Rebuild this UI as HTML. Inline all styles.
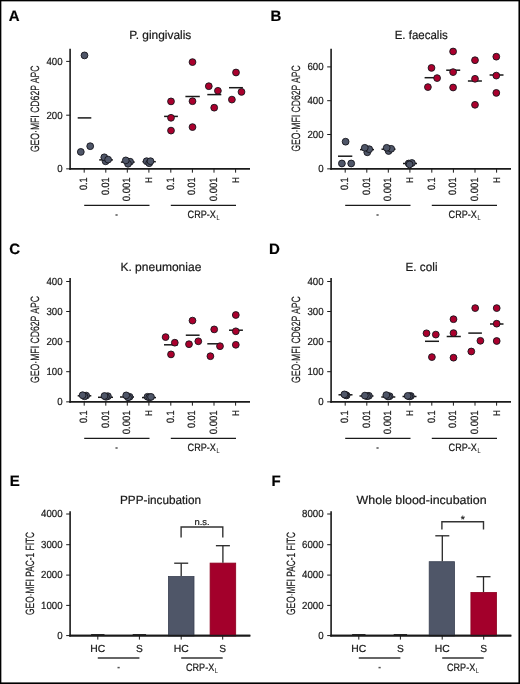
<!DOCTYPE html>
<html><head><meta charset="utf-8"><style>
html,body{margin:0;padding:0;background:#fff;width:520px;height:684px;overflow:hidden}
</style></head><body>
<svg width="520" height="684" viewBox="0 0 520 684" style="display:block;will-change:transform">
<style>text{stroke:#1a1a1a;stroke-width:0.22px}</style>
<g font-family='"Liberation Sans", sans-serif' text-rendering="geometricPrecision">
<rect x="0" y="0" width="520" height="684" fill="#fff"/>
<rect x="0" y="0" width="520" height="1.35" fill="#000"/>
<rect x="0" y="0" width="1.35" height="684" fill="#000"/>
<rect x="518.45" y="0" width="1.55" height="684" fill="#000"/>
<rect x="0" y="682.4" width="520" height="1.6" fill="#000"/>
<text x="8.80" y="20.60" font-size="15" text-anchor="start" font-weight="bold" fill="#000">A</text>
<text x="129.30" y="38.70" font-size="12" text-anchor="start" font-weight="normal" fill="#1a1a1a" textLength="62" lengthAdjust="spacingAndGlyphs">P. gingivalis</text>
<line x1="70.10" y1="48.80" x2="70.10" y2="169.65" stroke="#1a1a1a" stroke-width="1.6"/>
<line x1="69.30" y1="168.85" x2="250.00" y2="168.85" stroke="#1a1a1a" stroke-width="1.6"/>
<line x1="66.20" y1="61.40" x2="70.10" y2="61.40" stroke="#1a1a1a" stroke-width="1.0"/>
<text x="62.60" y="64.70" font-size="10.4" text-anchor="end" font-weight="normal" fill="#1a1a1a" textLength="16.2" lengthAdjust="spacingAndGlyphs">400</text>
<line x1="66.20" y1="115.20" x2="70.10" y2="115.20" stroke="#1a1a1a" stroke-width="1.0"/>
<text x="62.60" y="118.50" font-size="10.4" text-anchor="end" font-weight="normal" fill="#1a1a1a" textLength="16.2" lengthAdjust="spacingAndGlyphs">200</text>
<line x1="66.20" y1="168.85" x2="70.10" y2="168.85" stroke="#1a1a1a" stroke-width="1.0"/>
<text x="62.60" y="172.15" font-size="10.4" text-anchor="end" font-weight="normal" fill="#1a1a1a" textLength="5.4" lengthAdjust="spacingAndGlyphs">0</text>
<text transform="translate(39.30,152.10) rotate(-90)" font-size="12" text-anchor="start" fill="#1a1a1a" textLength="86.5" lengthAdjust="spacingAndGlyphs">GEO&#183;MFI CD62P APC</text>
<line x1="77.70" y1="117.90" x2="91.30" y2="117.90" stroke="#1a1a1a" stroke-width="1.5"/>
<line x1="99.20" y1="159.90" x2="112.90" y2="159.90" stroke="#1a1a1a" stroke-width="1.5"/>
<line x1="120.90" y1="162.10" x2="134.70" y2="162.10" stroke="#1a1a1a" stroke-width="1.5"/>
<line x1="142.50" y1="161.70" x2="155.80" y2="161.70" stroke="#1a1a1a" stroke-width="1.5"/>
<line x1="164.10" y1="116.40" x2="177.90" y2="116.40" stroke="#1a1a1a" stroke-width="1.5"/>
<line x1="185.40" y1="96.50" x2="199.80" y2="96.50" stroke="#1a1a1a" stroke-width="1.5"/>
<line x1="207.30" y1="94.60" x2="221.30" y2="94.60" stroke="#1a1a1a" stroke-width="1.5"/>
<line x1="229.00" y1="87.70" x2="242.90" y2="87.70" stroke="#1a1a1a" stroke-width="1.5"/>
<circle cx="84.50" cy="55.40" r="3.4" fill="#4f5668" stroke="#15151c" stroke-width="0.9"/>
<circle cx="80.80" cy="151.90" r="3.4" fill="#4f5668" stroke="#15151c" stroke-width="0.9"/>
<circle cx="90.20" cy="146.20" r="3.4" fill="#4f5668" stroke="#15151c" stroke-width="0.9"/>
<circle cx="105.60" cy="161.30" r="3.4" fill="#4f5668" stroke="#15151c" stroke-width="0.9"/>
<circle cx="104.30" cy="157.30" r="3.4" fill="#4f5668" stroke="#15151c" stroke-width="0.9"/>
<circle cx="108.10" cy="159.60" r="3.4" fill="#4f5668" stroke="#15151c" stroke-width="0.9"/>
<circle cx="130.10" cy="161.70" r="3.4" fill="#4f5668" stroke="#15151c" stroke-width="0.9"/>
<circle cx="128.00" cy="163.80" r="3.4" fill="#4f5668" stroke="#15151c" stroke-width="0.9"/>
<circle cx="125.80" cy="160.40" r="3.4" fill="#4f5668" stroke="#15151c" stroke-width="0.9"/>
<circle cx="146.60" cy="161.20" r="3.4" fill="#4f5668" stroke="#15151c" stroke-width="0.9"/>
<circle cx="149.20" cy="163.20" r="3.4" fill="#4f5668" stroke="#15151c" stroke-width="0.9"/>
<circle cx="150.50" cy="161.20" r="3.4" fill="#4f5668" stroke="#15151c" stroke-width="0.9"/>
<circle cx="171.00" cy="101.40" r="3.4" fill="#aa002d" stroke="#15151c" stroke-width="0.9"/>
<circle cx="171.00" cy="117.80" r="3.4" fill="#aa002d" stroke="#15151c" stroke-width="0.9"/>
<circle cx="171.00" cy="130.60" r="3.4" fill="#aa002d" stroke="#15151c" stroke-width="0.9"/>
<circle cx="192.50" cy="62.10" r="3.4" fill="#aa002d" stroke="#15151c" stroke-width="0.9"/>
<circle cx="192.50" cy="101.20" r="3.4" fill="#aa002d" stroke="#15151c" stroke-width="0.9"/>
<circle cx="192.50" cy="127.10" r="3.4" fill="#aa002d" stroke="#15151c" stroke-width="0.9"/>
<circle cx="208.80" cy="86.20" r="3.4" fill="#aa002d" stroke="#15151c" stroke-width="0.9"/>
<circle cx="217.90" cy="90.80" r="3.4" fill="#aa002d" stroke="#15151c" stroke-width="0.9"/>
<circle cx="214.20" cy="107.70" r="3.4" fill="#aa002d" stroke="#15151c" stroke-width="0.9"/>
<circle cx="236.00" cy="72.50" r="3.4" fill="#aa002d" stroke="#15151c" stroke-width="0.9"/>
<circle cx="241.50" cy="91.90" r="3.4" fill="#aa002d" stroke="#15151c" stroke-width="0.9"/>
<circle cx="231.90" cy="99.60" r="3.4" fill="#aa002d" stroke="#15151c" stroke-width="0.9"/>
<line x1="84.20" y1="168.85" x2="84.20" y2="172.65" stroke="#1a1a1a" stroke-width="1.0"/>
<text transform="translate(87.20,177.40) rotate(-90)" font-size="10.6" text-anchor="end" fill="#1a1a1a" textLength="12.6" lengthAdjust="spacingAndGlyphs">0.1</text>
<line x1="105.80" y1="168.85" x2="105.80" y2="172.65" stroke="#1a1a1a" stroke-width="1.0"/>
<text transform="translate(108.80,177.40) rotate(-90)" font-size="10.6" text-anchor="end" fill="#1a1a1a" textLength="17.7" lengthAdjust="spacingAndGlyphs">0.01</text>
<line x1="127.30" y1="168.85" x2="127.30" y2="172.65" stroke="#1a1a1a" stroke-width="1.0"/>
<text transform="translate(130.30,177.40) rotate(-90)" font-size="10.6" text-anchor="end" fill="#1a1a1a" textLength="23.8" lengthAdjust="spacingAndGlyphs">0.001</text>
<line x1="148.90" y1="168.85" x2="148.90" y2="172.65" stroke="#1a1a1a" stroke-width="1.0"/>
<text transform="translate(152.45,177.00) rotate(-90)" font-size="9.6" text-anchor="end" fill="#1a1a1a" textLength="5.9" lengthAdjust="spacingAndGlyphs">H</text>
<line x1="170.80" y1="168.85" x2="170.80" y2="172.65" stroke="#1a1a1a" stroke-width="1.0"/>
<text transform="translate(173.80,177.40) rotate(-90)" font-size="10.6" text-anchor="end" fill="#1a1a1a" textLength="12.6" lengthAdjust="spacingAndGlyphs">0.1</text>
<line x1="192.40" y1="168.85" x2="192.40" y2="172.65" stroke="#1a1a1a" stroke-width="1.0"/>
<text transform="translate(195.40,177.40) rotate(-90)" font-size="10.6" text-anchor="end" fill="#1a1a1a" textLength="17.7" lengthAdjust="spacingAndGlyphs">0.01</text>
<line x1="214.00" y1="168.85" x2="214.00" y2="172.65" stroke="#1a1a1a" stroke-width="1.0"/>
<text transform="translate(217.00,177.40) rotate(-90)" font-size="10.6" text-anchor="end" fill="#1a1a1a" textLength="23.8" lengthAdjust="spacingAndGlyphs">0.001</text>
<line x1="235.60" y1="168.85" x2="235.60" y2="172.65" stroke="#1a1a1a" stroke-width="1.0"/>
<text transform="translate(239.15,177.00) rotate(-90)" font-size="9.6" text-anchor="end" fill="#1a1a1a" textLength="5.9" lengthAdjust="spacingAndGlyphs">H</text>
<line x1="84.20" y1="205.30" x2="149.50" y2="205.30" stroke="#1a1a1a" stroke-width="1.3"/>
<line x1="170.80" y1="205.30" x2="236.00" y2="205.30" stroke="#1a1a1a" stroke-width="1.3"/>
<rect x="115.45" y="214.25" width="2.2" height="1.5" fill="#555"/>
<text x="187.60" y="217.80" font-size="10.6" text-anchor="start" font-weight="normal" fill="#1a1a1a" textLength="28.3" lengthAdjust="spacingAndGlyphs">CRP-X</text>
<text x="216.50" y="220.20" font-size="6.8" fill="#222" style="stroke-width:0.1px" textLength="3.1" lengthAdjust="spacingAndGlyphs">L</text>
<text x="270.60" y="20.60" font-size="15" text-anchor="start" font-weight="bold" fill="#000">B</text>
<text x="394.70" y="38.50" font-size="12" text-anchor="start" font-weight="normal" fill="#1a1a1a" textLength="53" lengthAdjust="spacingAndGlyphs">E. faecalis</text>
<line x1="331.10" y1="48.80" x2="331.10" y2="169.65" stroke="#1a1a1a" stroke-width="1.6"/>
<line x1="330.30" y1="168.85" x2="511.00" y2="168.85" stroke="#1a1a1a" stroke-width="1.6"/>
<line x1="327.20" y1="66.90" x2="331.10" y2="66.90" stroke="#1a1a1a" stroke-width="1.0"/>
<text x="323.60" y="70.20" font-size="10.4" text-anchor="end" font-weight="normal" fill="#1a1a1a" textLength="16.2" lengthAdjust="spacingAndGlyphs">600</text>
<line x1="327.20" y1="100.70" x2="331.10" y2="100.70" stroke="#1a1a1a" stroke-width="1.0"/>
<text x="323.60" y="104.00" font-size="10.4" text-anchor="end" font-weight="normal" fill="#1a1a1a" textLength="16.2" lengthAdjust="spacingAndGlyphs">400</text>
<line x1="327.20" y1="134.50" x2="331.10" y2="134.50" stroke="#1a1a1a" stroke-width="1.0"/>
<text x="323.60" y="137.80" font-size="10.4" text-anchor="end" font-weight="normal" fill="#1a1a1a" textLength="16.2" lengthAdjust="spacingAndGlyphs">200</text>
<line x1="327.20" y1="168.85" x2="331.10" y2="168.85" stroke="#1a1a1a" stroke-width="1.0"/>
<text x="323.60" y="172.15" font-size="10.4" text-anchor="end" font-weight="normal" fill="#1a1a1a" textLength="5.4" lengthAdjust="spacingAndGlyphs">0</text>
<text transform="translate(300.40,151.60) rotate(-90)" font-size="12" text-anchor="start" fill="#1a1a1a" textLength="86.2" lengthAdjust="spacingAndGlyphs">GEO&#183;MFI CD62P APC</text>
<line x1="338.00" y1="156.20" x2="352.30" y2="156.20" stroke="#1a1a1a" stroke-width="1.5"/>
<line x1="360.00" y1="149.60" x2="374.00" y2="149.60" stroke="#1a1a1a" stroke-width="1.5"/>
<line x1="381.50" y1="149.20" x2="395.50" y2="149.20" stroke="#1a1a1a" stroke-width="1.5"/>
<line x1="403.00" y1="163.50" x2="417.00" y2="163.50" stroke="#1a1a1a" stroke-width="1.5"/>
<line x1="424.60" y1="77.70" x2="438.00" y2="77.70" stroke="#1a1a1a" stroke-width="1.5"/>
<line x1="446.20" y1="70.20" x2="460.20" y2="70.20" stroke="#1a1a1a" stroke-width="1.5"/>
<line x1="467.90" y1="81.00" x2="481.90" y2="81.00" stroke="#1a1a1a" stroke-width="1.5"/>
<line x1="489.60" y1="75.00" x2="503.50" y2="75.00" stroke="#1a1a1a" stroke-width="1.5"/>
<circle cx="345.60" cy="141.70" r="3.4" fill="#4f5668" stroke="#15151c" stroke-width="0.9"/>
<circle cx="341.90" cy="163.50" r="3.4" fill="#4f5668" stroke="#15151c" stroke-width="0.9"/>
<circle cx="351.20" cy="163.50" r="3.4" fill="#4f5668" stroke="#15151c" stroke-width="0.9"/>
<circle cx="367.30" cy="152.30" r="3.4" fill="#4f5668" stroke="#15151c" stroke-width="0.9"/>
<circle cx="369.20" cy="149.20" r="3.4" fill="#4f5668" stroke="#15151c" stroke-width="0.9"/>
<circle cx="364.80" cy="147.80" r="3.4" fill="#4f5668" stroke="#15151c" stroke-width="0.9"/>
<circle cx="388.60" cy="151.00" r="3.4" fill="#4f5668" stroke="#15151c" stroke-width="0.9"/>
<circle cx="391.20" cy="148.80" r="3.4" fill="#4f5668" stroke="#15151c" stroke-width="0.9"/>
<circle cx="386.70" cy="147.80" r="3.4" fill="#4f5668" stroke="#15151c" stroke-width="0.9"/>
<circle cx="408.70" cy="163.50" r="3.4" fill="#4f5668" stroke="#15151c" stroke-width="0.9"/>
<circle cx="411.90" cy="163.00" r="3.4" fill="#4f5668" stroke="#15151c" stroke-width="0.9"/>
<circle cx="409.60" cy="164.40" r="3.4" fill="#4f5668" stroke="#15151c" stroke-width="0.9"/>
<circle cx="431.50" cy="67.90" r="3.4" fill="#aa002d" stroke="#15151c" stroke-width="0.9"/>
<circle cx="437.10" cy="78.10" r="3.4" fill="#aa002d" stroke="#15151c" stroke-width="0.9"/>
<circle cx="427.90" cy="87.10" r="3.4" fill="#aa002d" stroke="#15151c" stroke-width="0.9"/>
<circle cx="453.10" cy="51.50" r="3.4" fill="#aa002d" stroke="#15151c" stroke-width="0.9"/>
<circle cx="453.10" cy="72.10" r="3.4" fill="#aa002d" stroke="#15151c" stroke-width="0.9"/>
<circle cx="453.10" cy="87.50" r="3.4" fill="#aa002d" stroke="#15151c" stroke-width="0.9"/>
<circle cx="475.00" cy="60.20" r="3.4" fill="#aa002d" stroke="#15151c" stroke-width="0.9"/>
<circle cx="475.00" cy="78.80" r="3.4" fill="#aa002d" stroke="#15151c" stroke-width="0.9"/>
<circle cx="475.00" cy="104.80" r="3.4" fill="#aa002d" stroke="#15151c" stroke-width="0.9"/>
<circle cx="496.30" cy="56.70" r="3.4" fill="#aa002d" stroke="#15151c" stroke-width="0.9"/>
<circle cx="496.30" cy="75.60" r="3.4" fill="#aa002d" stroke="#15151c" stroke-width="0.9"/>
<circle cx="496.30" cy="92.90" r="3.4" fill="#aa002d" stroke="#15151c" stroke-width="0.9"/>
<line x1="345.20" y1="168.85" x2="345.20" y2="172.65" stroke="#1a1a1a" stroke-width="1.0"/>
<text transform="translate(348.20,177.40) rotate(-90)" font-size="10.6" text-anchor="end" fill="#1a1a1a" textLength="12.6" lengthAdjust="spacingAndGlyphs">0.1</text>
<line x1="366.80" y1="168.85" x2="366.80" y2="172.65" stroke="#1a1a1a" stroke-width="1.0"/>
<text transform="translate(369.80,177.40) rotate(-90)" font-size="10.6" text-anchor="end" fill="#1a1a1a" textLength="17.7" lengthAdjust="spacingAndGlyphs">0.01</text>
<line x1="388.30" y1="168.85" x2="388.30" y2="172.65" stroke="#1a1a1a" stroke-width="1.0"/>
<text transform="translate(391.30,177.40) rotate(-90)" font-size="10.6" text-anchor="end" fill="#1a1a1a" textLength="23.8" lengthAdjust="spacingAndGlyphs">0.001</text>
<line x1="409.90" y1="168.85" x2="409.90" y2="172.65" stroke="#1a1a1a" stroke-width="1.0"/>
<text transform="translate(413.45,177.00) rotate(-90)" font-size="9.6" text-anchor="end" fill="#1a1a1a" textLength="5.9" lengthAdjust="spacingAndGlyphs">H</text>
<line x1="431.80" y1="168.85" x2="431.80" y2="172.65" stroke="#1a1a1a" stroke-width="1.0"/>
<text transform="translate(434.80,177.40) rotate(-90)" font-size="10.6" text-anchor="end" fill="#1a1a1a" textLength="12.6" lengthAdjust="spacingAndGlyphs">0.1</text>
<line x1="453.40" y1="168.85" x2="453.40" y2="172.65" stroke="#1a1a1a" stroke-width="1.0"/>
<text transform="translate(456.40,177.40) rotate(-90)" font-size="10.6" text-anchor="end" fill="#1a1a1a" textLength="17.7" lengthAdjust="spacingAndGlyphs">0.01</text>
<line x1="475.00" y1="168.85" x2="475.00" y2="172.65" stroke="#1a1a1a" stroke-width="1.0"/>
<text transform="translate(478.00,177.40) rotate(-90)" font-size="10.6" text-anchor="end" fill="#1a1a1a" textLength="23.8" lengthAdjust="spacingAndGlyphs">0.001</text>
<line x1="496.60" y1="168.85" x2="496.60" y2="172.65" stroke="#1a1a1a" stroke-width="1.0"/>
<text transform="translate(500.15,177.00) rotate(-90)" font-size="9.6" text-anchor="end" fill="#1a1a1a" textLength="5.9" lengthAdjust="spacingAndGlyphs">H</text>
<line x1="345.20" y1="205.30" x2="410.50" y2="205.30" stroke="#1a1a1a" stroke-width="1.3"/>
<line x1="431.80" y1="205.30" x2="497.00" y2="205.30" stroke="#1a1a1a" stroke-width="1.3"/>
<rect x="376.45" y="214.25" width="2.2" height="1.5" fill="#555"/>
<text x="448.60" y="217.80" font-size="10.6" text-anchor="start" font-weight="normal" fill="#1a1a1a" textLength="28.3" lengthAdjust="spacingAndGlyphs">CRP-X</text>
<text x="477.50" y="220.20" font-size="6.8" fill="#222" style="stroke-width:0.1px" textLength="3.1" lengthAdjust="spacingAndGlyphs">L</text>
<text x="9.30" y="253.60" font-size="15" text-anchor="start" font-weight="bold" fill="#000">C</text>
<text x="120.40" y="271.00" font-size="12" text-anchor="start" font-weight="normal" fill="#1a1a1a" textLength="81" lengthAdjust="spacingAndGlyphs">K. pneumoniae</text>
<line x1="70.10" y1="278.00" x2="70.10" y2="402.65" stroke="#1a1a1a" stroke-width="1.6"/>
<line x1="69.30" y1="401.85" x2="250.00" y2="401.85" stroke="#1a1a1a" stroke-width="1.6"/>
<line x1="66.20" y1="281.50" x2="70.10" y2="281.50" stroke="#1a1a1a" stroke-width="1.0"/>
<text x="62.60" y="284.80" font-size="10.4" text-anchor="end" font-weight="normal" fill="#1a1a1a" textLength="16.2" lengthAdjust="spacingAndGlyphs">400</text>
<line x1="66.20" y1="311.50" x2="70.10" y2="311.50" stroke="#1a1a1a" stroke-width="1.0"/>
<text x="62.60" y="314.80" font-size="10.4" text-anchor="end" font-weight="normal" fill="#1a1a1a" textLength="16.2" lengthAdjust="spacingAndGlyphs">300</text>
<line x1="66.20" y1="341.70" x2="70.10" y2="341.70" stroke="#1a1a1a" stroke-width="1.0"/>
<text x="62.60" y="345.00" font-size="10.4" text-anchor="end" font-weight="normal" fill="#1a1a1a" textLength="16.2" lengthAdjust="spacingAndGlyphs">200</text>
<line x1="66.20" y1="371.70" x2="70.10" y2="371.70" stroke="#1a1a1a" stroke-width="1.0"/>
<text x="62.60" y="375.00" font-size="10.4" text-anchor="end" font-weight="normal" fill="#1a1a1a" textLength="16.2" lengthAdjust="spacingAndGlyphs">100</text>
<line x1="66.20" y1="401.85" x2="70.10" y2="401.85" stroke="#1a1a1a" stroke-width="1.0"/>
<text x="62.60" y="405.15" font-size="10.4" text-anchor="end" font-weight="normal" fill="#1a1a1a" textLength="5.4" lengthAdjust="spacingAndGlyphs">0</text>
<text transform="translate(39.40,383.00) rotate(-90)" font-size="12" text-anchor="start" fill="#1a1a1a" textLength="87.0" lengthAdjust="spacingAndGlyphs">GEO&#183;MFI CD62P APC</text>
<line x1="77.70" y1="395.80" x2="91.30" y2="395.80" stroke="#1a1a1a" stroke-width="1.5"/>
<line x1="98.00" y1="397.30" x2="113.00" y2="397.30" stroke="#1a1a1a" stroke-width="1.5"/>
<line x1="120.00" y1="397.00" x2="134.00" y2="397.00" stroke="#1a1a1a" stroke-width="1.5"/>
<line x1="142.00" y1="397.60" x2="156.00" y2="397.60" stroke="#1a1a1a" stroke-width="1.5"/>
<line x1="164.00" y1="344.80" x2="177.70" y2="344.80" stroke="#1a1a1a" stroke-width="1.5"/>
<line x1="185.80" y1="335.20" x2="199.60" y2="335.20" stroke="#1a1a1a" stroke-width="1.5"/>
<line x1="207.30" y1="343.80" x2="221.00" y2="343.80" stroke="#1a1a1a" stroke-width="1.5"/>
<line x1="229.00" y1="330.20" x2="242.90" y2="330.20" stroke="#1a1a1a" stroke-width="1.5"/>
<circle cx="86.20" cy="395.60" r="3.4" fill="#4f5668" stroke="#15151c" stroke-width="0.9"/>
<circle cx="84.50" cy="396.30" r="3.4" fill="#4f5668" stroke="#15151c" stroke-width="0.9"/>
<circle cx="82.60" cy="395.20" r="3.4" fill="#4f5668" stroke="#15151c" stroke-width="0.9"/>
<circle cx="107.90" cy="396.20" r="3.4" fill="#4f5668" stroke="#15151c" stroke-width="0.9"/>
<circle cx="106.00" cy="396.80" r="3.4" fill="#4f5668" stroke="#15151c" stroke-width="0.9"/>
<circle cx="104.50" cy="396.00" r="3.4" fill="#4f5668" stroke="#15151c" stroke-width="0.9"/>
<circle cx="129.60" cy="396.80" r="3.4" fill="#4f5668" stroke="#15151c" stroke-width="0.9"/>
<circle cx="128.00" cy="397.30" r="3.4" fill="#4f5668" stroke="#15151c" stroke-width="0.9"/>
<circle cx="126.20" cy="395.40" r="3.4" fill="#4f5668" stroke="#15151c" stroke-width="0.9"/>
<circle cx="147.50" cy="396.80" r="3.4" fill="#4f5668" stroke="#15151c" stroke-width="0.9"/>
<circle cx="149.30" cy="397.30" r="3.4" fill="#4f5668" stroke="#15151c" stroke-width="0.9"/>
<circle cx="151.00" cy="396.90" r="3.4" fill="#4f5668" stroke="#15151c" stroke-width="0.9"/>
<circle cx="165.60" cy="337.10" r="3.4" fill="#aa002d" stroke="#15151c" stroke-width="0.9"/>
<circle cx="174.80" cy="342.70" r="3.4" fill="#aa002d" stroke="#15151c" stroke-width="0.9"/>
<circle cx="171.00" cy="354.40" r="3.4" fill="#aa002d" stroke="#15151c" stroke-width="0.9"/>
<circle cx="192.50" cy="320.60" r="3.4" fill="#aa002d" stroke="#15151c" stroke-width="0.9"/>
<circle cx="189.00" cy="344.20" r="3.4" fill="#aa002d" stroke="#15151c" stroke-width="0.9"/>
<circle cx="198.30" cy="341.30" r="3.4" fill="#aa002d" stroke="#15151c" stroke-width="0.9"/>
<circle cx="214.20" cy="329.40" r="3.4" fill="#aa002d" stroke="#15151c" stroke-width="0.9"/>
<circle cx="220.00" cy="346.20" r="3.4" fill="#aa002d" stroke="#15151c" stroke-width="0.9"/>
<circle cx="210.40" cy="356.20" r="3.4" fill="#aa002d" stroke="#15151c" stroke-width="0.9"/>
<circle cx="235.80" cy="315.00" r="3.4" fill="#aa002d" stroke="#15151c" stroke-width="0.9"/>
<circle cx="235.80" cy="331.30" r="3.4" fill="#aa002d" stroke="#15151c" stroke-width="0.9"/>
<circle cx="235.80" cy="344.80" r="3.4" fill="#aa002d" stroke="#15151c" stroke-width="0.9"/>
<line x1="84.20" y1="401.85" x2="84.20" y2="405.65" stroke="#1a1a1a" stroke-width="1.0"/>
<text transform="translate(87.20,410.40) rotate(-90)" font-size="10.6" text-anchor="end" fill="#1a1a1a" textLength="12.6" lengthAdjust="spacingAndGlyphs">0.1</text>
<line x1="105.80" y1="401.85" x2="105.80" y2="405.65" stroke="#1a1a1a" stroke-width="1.0"/>
<text transform="translate(108.80,410.40) rotate(-90)" font-size="10.6" text-anchor="end" fill="#1a1a1a" textLength="17.7" lengthAdjust="spacingAndGlyphs">0.01</text>
<line x1="127.30" y1="401.85" x2="127.30" y2="405.65" stroke="#1a1a1a" stroke-width="1.0"/>
<text transform="translate(130.30,410.40) rotate(-90)" font-size="10.6" text-anchor="end" fill="#1a1a1a" textLength="23.8" lengthAdjust="spacingAndGlyphs">0.001</text>
<line x1="148.90" y1="401.85" x2="148.90" y2="405.65" stroke="#1a1a1a" stroke-width="1.0"/>
<text transform="translate(152.45,410.00) rotate(-90)" font-size="9.6" text-anchor="end" fill="#1a1a1a" textLength="5.9" lengthAdjust="spacingAndGlyphs">H</text>
<line x1="170.80" y1="401.85" x2="170.80" y2="405.65" stroke="#1a1a1a" stroke-width="1.0"/>
<text transform="translate(173.80,410.40) rotate(-90)" font-size="10.6" text-anchor="end" fill="#1a1a1a" textLength="12.6" lengthAdjust="spacingAndGlyphs">0.1</text>
<line x1="192.40" y1="401.85" x2="192.40" y2="405.65" stroke="#1a1a1a" stroke-width="1.0"/>
<text transform="translate(195.40,410.40) rotate(-90)" font-size="10.6" text-anchor="end" fill="#1a1a1a" textLength="17.7" lengthAdjust="spacingAndGlyphs">0.01</text>
<line x1="214.00" y1="401.85" x2="214.00" y2="405.65" stroke="#1a1a1a" stroke-width="1.0"/>
<text transform="translate(217.00,410.40) rotate(-90)" font-size="10.6" text-anchor="end" fill="#1a1a1a" textLength="23.8" lengthAdjust="spacingAndGlyphs">0.001</text>
<line x1="235.60" y1="401.85" x2="235.60" y2="405.65" stroke="#1a1a1a" stroke-width="1.0"/>
<text transform="translate(239.15,410.00) rotate(-90)" font-size="9.6" text-anchor="end" fill="#1a1a1a" textLength="5.9" lengthAdjust="spacingAndGlyphs">H</text>
<line x1="84.20" y1="438.30" x2="149.50" y2="438.30" stroke="#1a1a1a" stroke-width="1.3"/>
<line x1="170.80" y1="438.30" x2="236.00" y2="438.30" stroke="#1a1a1a" stroke-width="1.3"/>
<rect x="115.45" y="447.25" width="2.2" height="1.5" fill="#555"/>
<text x="187.60" y="450.80" font-size="10.6" text-anchor="start" font-weight="normal" fill="#1a1a1a" textLength="28.3" lengthAdjust="spacingAndGlyphs">CRP-X</text>
<text x="216.50" y="453.20" font-size="6.8" fill="#222" style="stroke-width:0.1px" textLength="3.1" lengthAdjust="spacingAndGlyphs">L</text>
<text x="268.90" y="253.60" font-size="15" text-anchor="start" font-weight="bold" fill="#000">D</text>
<text x="405.50" y="270.90" font-size="12" text-anchor="start" font-weight="normal" fill="#1a1a1a" textLength="32" lengthAdjust="spacingAndGlyphs">E. coli</text>
<line x1="331.10" y1="278.00" x2="331.10" y2="402.65" stroke="#1a1a1a" stroke-width="1.6"/>
<line x1="330.30" y1="401.85" x2="511.00" y2="401.85" stroke="#1a1a1a" stroke-width="1.6"/>
<line x1="327.20" y1="281.50" x2="331.10" y2="281.50" stroke="#1a1a1a" stroke-width="1.0"/>
<text x="323.60" y="284.80" font-size="10.4" text-anchor="end" font-weight="normal" fill="#1a1a1a" textLength="16.2" lengthAdjust="spacingAndGlyphs">400</text>
<line x1="327.20" y1="311.50" x2="331.10" y2="311.50" stroke="#1a1a1a" stroke-width="1.0"/>
<text x="323.60" y="314.80" font-size="10.4" text-anchor="end" font-weight="normal" fill="#1a1a1a" textLength="16.2" lengthAdjust="spacingAndGlyphs">300</text>
<line x1="327.20" y1="341.70" x2="331.10" y2="341.70" stroke="#1a1a1a" stroke-width="1.0"/>
<text x="323.60" y="345.00" font-size="10.4" text-anchor="end" font-weight="normal" fill="#1a1a1a" textLength="16.2" lengthAdjust="spacingAndGlyphs">200</text>
<line x1="327.20" y1="371.70" x2="331.10" y2="371.70" stroke="#1a1a1a" stroke-width="1.0"/>
<text x="323.60" y="375.00" font-size="10.4" text-anchor="end" font-weight="normal" fill="#1a1a1a" textLength="16.2" lengthAdjust="spacingAndGlyphs">100</text>
<line x1="327.20" y1="401.85" x2="331.10" y2="401.85" stroke="#1a1a1a" stroke-width="1.0"/>
<text x="323.60" y="405.15" font-size="10.4" text-anchor="end" font-weight="normal" fill="#1a1a1a" textLength="5.4" lengthAdjust="spacingAndGlyphs">0</text>
<text transform="translate(300.30,383.00) rotate(-90)" font-size="12" text-anchor="start" fill="#1a1a1a" textLength="86.8" lengthAdjust="spacingAndGlyphs">GEO&#183;MFI CD62P APC</text>
<line x1="338.50" y1="394.80" x2="352.50" y2="394.80" stroke="#1a1a1a" stroke-width="1.5"/>
<line x1="359.50" y1="396.00" x2="373.50" y2="396.00" stroke="#1a1a1a" stroke-width="1.5"/>
<line x1="381.30" y1="397.00" x2="395.30" y2="397.00" stroke="#1a1a1a" stroke-width="1.5"/>
<line x1="402.50" y1="396.50" x2="416.50" y2="396.50" stroke="#1a1a1a" stroke-width="1.5"/>
<line x1="425.00" y1="341.30" x2="439.00" y2="341.30" stroke="#1a1a1a" stroke-width="1.5"/>
<line x1="446.70" y1="336.50" x2="460.80" y2="336.50" stroke="#1a1a1a" stroke-width="1.5"/>
<line x1="468.30" y1="333.10" x2="481.90" y2="333.10" stroke="#1a1a1a" stroke-width="1.5"/>
<line x1="490.00" y1="324.00" x2="503.50" y2="324.00" stroke="#1a1a1a" stroke-width="1.5"/>
<circle cx="346.60" cy="395.40" r="3.4" fill="#4f5668" stroke="#15151c" stroke-width="0.9"/>
<circle cx="345.50" cy="395.00" r="3.4" fill="#4f5668" stroke="#15151c" stroke-width="0.9"/>
<circle cx="344.40" cy="394.40" r="3.4" fill="#4f5668" stroke="#15151c" stroke-width="0.9"/>
<circle cx="368.90" cy="395.80" r="3.4" fill="#4f5668" stroke="#15151c" stroke-width="0.9"/>
<circle cx="367.00" cy="396.20" r="3.4" fill="#4f5668" stroke="#15151c" stroke-width="0.9"/>
<circle cx="364.90" cy="395.60" r="3.4" fill="#4f5668" stroke="#15151c" stroke-width="0.9"/>
<circle cx="389.60" cy="396.20" r="3.4" fill="#4f5668" stroke="#15151c" stroke-width="0.9"/>
<circle cx="388.00" cy="396.50" r="3.4" fill="#4f5668" stroke="#15151c" stroke-width="0.9"/>
<circle cx="386.30" cy="395.10" r="3.4" fill="#4f5668" stroke="#15151c" stroke-width="0.9"/>
<circle cx="410.80" cy="396.00" r="3.4" fill="#4f5668" stroke="#15151c" stroke-width="0.9"/>
<circle cx="409.30" cy="396.40" r="3.4" fill="#4f5668" stroke="#15151c" stroke-width="0.9"/>
<circle cx="407.70" cy="395.90" r="3.4" fill="#4f5668" stroke="#15151c" stroke-width="0.9"/>
<circle cx="426.50" cy="333.30" r="3.4" fill="#aa002d" stroke="#15151c" stroke-width="0.9"/>
<circle cx="435.80" cy="334.60" r="3.4" fill="#aa002d" stroke="#15151c" stroke-width="0.9"/>
<circle cx="431.90" cy="357.10" r="3.4" fill="#aa002d" stroke="#15151c" stroke-width="0.9"/>
<circle cx="453.50" cy="319.20" r="3.4" fill="#aa002d" stroke="#15151c" stroke-width="0.9"/>
<circle cx="453.50" cy="333.10" r="3.4" fill="#aa002d" stroke="#15151c" stroke-width="0.9"/>
<circle cx="453.50" cy="357.70" r="3.4" fill="#aa002d" stroke="#15151c" stroke-width="0.9"/>
<circle cx="475.20" cy="308.10" r="3.4" fill="#aa002d" stroke="#15151c" stroke-width="0.9"/>
<circle cx="480.40" cy="340.80" r="3.4" fill="#aa002d" stroke="#15151c" stroke-width="0.9"/>
<circle cx="471.30" cy="351.50" r="3.4" fill="#aa002d" stroke="#15151c" stroke-width="0.9"/>
<circle cx="496.70" cy="308.10" r="3.4" fill="#aa002d" stroke="#15151c" stroke-width="0.9"/>
<circle cx="496.70" cy="323.70" r="3.4" fill="#aa002d" stroke="#15151c" stroke-width="0.9"/>
<circle cx="496.70" cy="341.00" r="3.4" fill="#aa002d" stroke="#15151c" stroke-width="0.9"/>
<line x1="345.20" y1="401.85" x2="345.20" y2="405.65" stroke="#1a1a1a" stroke-width="1.0"/>
<text transform="translate(348.20,410.40) rotate(-90)" font-size="10.6" text-anchor="end" fill="#1a1a1a" textLength="12.6" lengthAdjust="spacingAndGlyphs">0.1</text>
<line x1="366.80" y1="401.85" x2="366.80" y2="405.65" stroke="#1a1a1a" stroke-width="1.0"/>
<text transform="translate(369.80,410.40) rotate(-90)" font-size="10.6" text-anchor="end" fill="#1a1a1a" textLength="17.7" lengthAdjust="spacingAndGlyphs">0.01</text>
<line x1="388.30" y1="401.85" x2="388.30" y2="405.65" stroke="#1a1a1a" stroke-width="1.0"/>
<text transform="translate(391.30,410.40) rotate(-90)" font-size="10.6" text-anchor="end" fill="#1a1a1a" textLength="23.8" lengthAdjust="spacingAndGlyphs">0.001</text>
<line x1="409.90" y1="401.85" x2="409.90" y2="405.65" stroke="#1a1a1a" stroke-width="1.0"/>
<text transform="translate(413.45,410.00) rotate(-90)" font-size="9.6" text-anchor="end" fill="#1a1a1a" textLength="5.9" lengthAdjust="spacingAndGlyphs">H</text>
<line x1="431.80" y1="401.85" x2="431.80" y2="405.65" stroke="#1a1a1a" stroke-width="1.0"/>
<text transform="translate(434.80,410.40) rotate(-90)" font-size="10.6" text-anchor="end" fill="#1a1a1a" textLength="12.6" lengthAdjust="spacingAndGlyphs">0.1</text>
<line x1="453.40" y1="401.85" x2="453.40" y2="405.65" stroke="#1a1a1a" stroke-width="1.0"/>
<text transform="translate(456.40,410.40) rotate(-90)" font-size="10.6" text-anchor="end" fill="#1a1a1a" textLength="17.7" lengthAdjust="spacingAndGlyphs">0.01</text>
<line x1="475.00" y1="401.85" x2="475.00" y2="405.65" stroke="#1a1a1a" stroke-width="1.0"/>
<text transform="translate(478.00,410.40) rotate(-90)" font-size="10.6" text-anchor="end" fill="#1a1a1a" textLength="23.8" lengthAdjust="spacingAndGlyphs">0.001</text>
<line x1="496.60" y1="401.85" x2="496.60" y2="405.65" stroke="#1a1a1a" stroke-width="1.0"/>
<text transform="translate(500.15,410.00) rotate(-90)" font-size="9.6" text-anchor="end" fill="#1a1a1a" textLength="5.9" lengthAdjust="spacingAndGlyphs">H</text>
<line x1="345.20" y1="438.30" x2="410.50" y2="438.30" stroke="#1a1a1a" stroke-width="1.3"/>
<line x1="431.80" y1="438.30" x2="497.00" y2="438.30" stroke="#1a1a1a" stroke-width="1.3"/>
<rect x="376.45" y="447.25" width="2.2" height="1.5" fill="#555"/>
<text x="448.60" y="450.80" font-size="10.6" text-anchor="start" font-weight="normal" fill="#1a1a1a" textLength="28.3" lengthAdjust="spacingAndGlyphs">CRP-X</text>
<text x="477.50" y="453.20" font-size="6.8" fill="#222" style="stroke-width:0.1px" textLength="3.1" lengthAdjust="spacingAndGlyphs">L</text>
<text x="9.80" y="486.40" font-size="15" text-anchor="start" font-weight="bold" fill="#000">E</text>
<text x="120.00" y="504.20" font-size="12" text-anchor="start" font-weight="normal" fill="#1a1a1a" textLength="81" lengthAdjust="spacingAndGlyphs">PPP-incubation</text>
<line x1="70.10" y1="511.20" x2="70.10" y2="636.40" stroke="#1a1a1a" stroke-width="1.6"/>
<line x1="69.30" y1="635.60" x2="250.30" y2="635.60" stroke="#1a1a1a" stroke-width="1.6"/>
<line x1="66.20" y1="514.00" x2="70.10" y2="514.00" stroke="#1a1a1a" stroke-width="1.0"/>
<text x="62.60" y="517.30" font-size="10.4" text-anchor="end" font-weight="normal" fill="#1a1a1a" textLength="21.6" lengthAdjust="spacingAndGlyphs">4000</text>
<line x1="66.20" y1="544.70" x2="70.10" y2="544.70" stroke="#1a1a1a" stroke-width="1.0"/>
<text x="62.60" y="548.00" font-size="10.4" text-anchor="end" font-weight="normal" fill="#1a1a1a" textLength="21.6" lengthAdjust="spacingAndGlyphs">3000</text>
<line x1="66.20" y1="575.10" x2="70.10" y2="575.10" stroke="#1a1a1a" stroke-width="1.0"/>
<text x="62.60" y="578.40" font-size="10.4" text-anchor="end" font-weight="normal" fill="#1a1a1a" textLength="21.6" lengthAdjust="spacingAndGlyphs">2000</text>
<line x1="66.20" y1="605.40" x2="70.10" y2="605.40" stroke="#1a1a1a" stroke-width="1.0"/>
<text x="62.60" y="608.70" font-size="10.4" text-anchor="end" font-weight="normal" fill="#1a1a1a" textLength="21.6" lengthAdjust="spacingAndGlyphs">1000</text>
<line x1="66.20" y1="635.60" x2="70.10" y2="635.60" stroke="#1a1a1a" stroke-width="1.0"/>
<text x="62.60" y="638.90" font-size="10.4" text-anchor="end" font-weight="normal" fill="#1a1a1a" textLength="5.4" lengthAdjust="spacingAndGlyphs">0</text>
<text transform="translate(34.00,614.90) rotate(-90)" font-size="12" text-anchor="start" fill="#1a1a1a" textLength="83.0" lengthAdjust="spacingAndGlyphs">GEO&#183;MFI PAC-1 FITC</text>
<line x1="91.10" y1="634.60" x2="104.50" y2="634.60" stroke="#1a1a1a" stroke-width="1.0"/>
<line x1="132.70" y1="634.60" x2="146.10" y2="634.60" stroke="#1a1a1a" stroke-width="1.0"/>
<rect x="168.40" y="576.50" width="25.60" height="59.50" fill="#4f5668" stroke="#394052" stroke-width="0.8"/>
<rect x="210.10" y="563.10" width="25.60" height="72.90" fill="#a3002b" stroke="#8c001f" stroke-width="0.8"/>
<line x1="181.20" y1="576.10" x2="181.20" y2="563.20" stroke="#262626" stroke-width="1.3"/>
<line x1="174.20" y1="563.20" x2="188.20" y2="563.20" stroke="#262626" stroke-width="1.3"/>
<line x1="222.90" y1="562.70" x2="222.90" y2="545.70" stroke="#262626" stroke-width="1.3"/>
<line x1="215.90" y1="545.70" x2="229.90" y2="545.70" stroke="#262626" stroke-width="1.3"/>
<line x1="69.30" y1="635.60" x2="250.30" y2="635.60" stroke="#1a1a1a" stroke-width="1.6"/>
<line x1="97.80" y1="635.60" x2="97.80" y2="639.60" stroke="#1a1a1a" stroke-width="1.0"/>
<line x1="139.40" y1="635.60" x2="139.40" y2="639.60" stroke="#1a1a1a" stroke-width="1.0"/>
<line x1="181.20" y1="635.60" x2="181.20" y2="639.60" stroke="#1a1a1a" stroke-width="1.0"/>
<line x1="222.70" y1="635.60" x2="222.70" y2="639.60" stroke="#1a1a1a" stroke-width="1.0"/>
<text x="97.80" y="651.80" font-size="10.2" text-anchor="middle" font-weight="normal" fill="#1a1a1a" textLength="15.0" lengthAdjust="spacingAndGlyphs">HC</text>
<text x="139.40" y="651.80" font-size="10.2" text-anchor="middle" font-weight="normal" fill="#1a1a1a">S</text>
<text x="181.20" y="651.80" font-size="10.2" text-anchor="middle" font-weight="normal" fill="#1a1a1a" textLength="15.0" lengthAdjust="spacingAndGlyphs">HC</text>
<text x="222.70" y="651.80" font-size="10.2" text-anchor="middle" font-weight="normal" fill="#1a1a1a">S</text>
<line x1="97.80" y1="658.00" x2="139.40" y2="658.00" stroke="#333" stroke-width="1.3"/>
<line x1="181.20" y1="658.00" x2="222.70" y2="658.00" stroke="#333" stroke-width="1.3"/>
<rect x="117.50" y="666.85" width="2.2" height="1.5" fill="#555"/>
<text x="186.00" y="670.80" font-size="10.6" text-anchor="start" font-weight="normal" fill="#1a1a1a" textLength="28.2" lengthAdjust="spacingAndGlyphs">CRP-X</text>
<text x="214.80" y="673.20" font-size="6.8" fill="#222" style="stroke-width:0.1px" textLength="3.1" lengthAdjust="spacingAndGlyphs">L</text>
<polyline points="181.10,537.60 181.10,527.00 222.80,527.00 222.80,537.60" fill="none" stroke="#333" stroke-width="1.4"/>
<text x="202.10" y="524.80" font-size="9.2" text-anchor="middle" font-weight="normal" fill="#1a1a1a" textLength="15.2" lengthAdjust="spacingAndGlyphs">n.s.</text>
<text x="271.60" y="486.40" font-size="15" text-anchor="start" font-weight="bold" fill="#000">F</text>
<text x="356.60" y="504.20" font-size="12" text-anchor="start" font-weight="normal" fill="#1a1a1a" textLength="130" lengthAdjust="spacingAndGlyphs">Whole blood-incubation</text>
<line x1="331.10" y1="511.20" x2="331.10" y2="636.40" stroke="#1a1a1a" stroke-width="1.6"/>
<line x1="330.30" y1="635.60" x2="511.30" y2="635.60" stroke="#1a1a1a" stroke-width="1.6"/>
<line x1="327.20" y1="514.00" x2="331.10" y2="514.00" stroke="#1a1a1a" stroke-width="1.0"/>
<text x="323.60" y="517.30" font-size="10.4" text-anchor="end" font-weight="normal" fill="#1a1a1a" textLength="21.6" lengthAdjust="spacingAndGlyphs">8000</text>
<line x1="327.20" y1="544.70" x2="331.10" y2="544.70" stroke="#1a1a1a" stroke-width="1.0"/>
<text x="323.60" y="548.00" font-size="10.4" text-anchor="end" font-weight="normal" fill="#1a1a1a" textLength="21.6" lengthAdjust="spacingAndGlyphs">6000</text>
<line x1="327.20" y1="575.10" x2="331.10" y2="575.10" stroke="#1a1a1a" stroke-width="1.0"/>
<text x="323.60" y="578.40" font-size="10.4" text-anchor="end" font-weight="normal" fill="#1a1a1a" textLength="21.6" lengthAdjust="spacingAndGlyphs">4000</text>
<line x1="327.20" y1="605.40" x2="331.10" y2="605.40" stroke="#1a1a1a" stroke-width="1.0"/>
<text x="323.60" y="608.70" font-size="10.4" text-anchor="end" font-weight="normal" fill="#1a1a1a" textLength="21.6" lengthAdjust="spacingAndGlyphs">2000</text>
<line x1="327.20" y1="635.60" x2="331.10" y2="635.60" stroke="#1a1a1a" stroke-width="1.0"/>
<text x="323.60" y="638.90" font-size="10.4" text-anchor="end" font-weight="normal" fill="#1a1a1a" textLength="5.4" lengthAdjust="spacingAndGlyphs">0</text>
<text transform="translate(294.70,614.90) rotate(-90)" font-size="12" text-anchor="start" fill="#1a1a1a" textLength="83.0" lengthAdjust="spacingAndGlyphs">GEO&#183;MFI PAC-1 FITC</text>
<line x1="352.10" y1="634.60" x2="365.50" y2="634.60" stroke="#1a1a1a" stroke-width="1.0"/>
<line x1="393.70" y1="634.60" x2="407.10" y2="634.60" stroke="#1a1a1a" stroke-width="1.0"/>
<rect x="429.20" y="561.70" width="25.30" height="74.30" fill="#4f5668" stroke="#394052" stroke-width="0.8"/>
<rect x="470.90" y="592.40" width="25.60" height="43.60" fill="#a3002b" stroke="#8c001f" stroke-width="0.8"/>
<line x1="442.30" y1="561.30" x2="442.30" y2="535.80" stroke="#262626" stroke-width="1.3"/>
<line x1="435.30" y1="535.80" x2="449.30" y2="535.80" stroke="#262626" stroke-width="1.3"/>
<line x1="483.50" y1="592.00" x2="483.50" y2="576.70" stroke="#262626" stroke-width="1.3"/>
<line x1="476.50" y1="576.70" x2="490.50" y2="576.70" stroke="#262626" stroke-width="1.3"/>
<line x1="330.30" y1="635.60" x2="511.30" y2="635.60" stroke="#1a1a1a" stroke-width="1.6"/>
<line x1="358.80" y1="635.60" x2="358.80" y2="639.60" stroke="#1a1a1a" stroke-width="1.0"/>
<line x1="400.40" y1="635.60" x2="400.40" y2="639.60" stroke="#1a1a1a" stroke-width="1.0"/>
<line x1="442.20" y1="635.60" x2="442.20" y2="639.60" stroke="#1a1a1a" stroke-width="1.0"/>
<line x1="483.70" y1="635.60" x2="483.70" y2="639.60" stroke="#1a1a1a" stroke-width="1.0"/>
<text x="358.80" y="651.80" font-size="10.2" text-anchor="middle" font-weight="normal" fill="#1a1a1a" textLength="15.0" lengthAdjust="spacingAndGlyphs">HC</text>
<text x="400.40" y="651.80" font-size="10.2" text-anchor="middle" font-weight="normal" fill="#1a1a1a">S</text>
<text x="442.20" y="651.80" font-size="10.2" text-anchor="middle" font-weight="normal" fill="#1a1a1a" textLength="15.0" lengthAdjust="spacingAndGlyphs">HC</text>
<text x="483.70" y="651.80" font-size="10.2" text-anchor="middle" font-weight="normal" fill="#1a1a1a">S</text>
<line x1="358.80" y1="658.00" x2="400.40" y2="658.00" stroke="#333" stroke-width="1.3"/>
<line x1="442.20" y1="658.00" x2="483.70" y2="658.00" stroke="#333" stroke-width="1.3"/>
<rect x="378.50" y="666.85" width="2.2" height="1.5" fill="#555"/>
<text x="447.00" y="670.80" font-size="10.6" text-anchor="start" font-weight="normal" fill="#1a1a1a" textLength="28.2" lengthAdjust="spacingAndGlyphs">CRP-X</text>
<text x="475.80" y="673.20" font-size="6.8" fill="#222" style="stroke-width:0.1px" textLength="3.1" lengthAdjust="spacingAndGlyphs">L</text>
<polyline points="441.90,529.50 441.90,521.80 483.50,521.80 483.50,529.50" fill="none" stroke="#333" stroke-width="1.4"/>
<text x="462.70" y="522.70" font-size="10.5" text-anchor="middle" font-weight="normal" fill="#1a1a1a">*</text>
</g></svg>
</body></html>
